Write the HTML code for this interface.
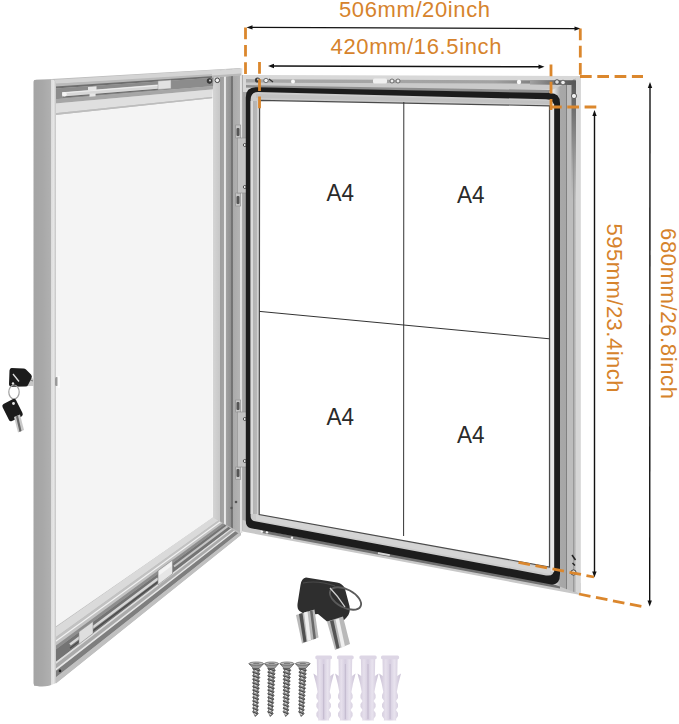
<!DOCTYPE html>
<html><head><meta charset="utf-8"><style>
html,body{margin:0;padding:0;background:#fff;width:679px;height:724px;overflow:hidden}
svg{display:block}
text{font-family:"Liberation Sans",sans-serif}
</style></head>
<body><svg width="679" height="724" viewBox="0 0 679 724">
<defs>
<linearGradient id="barL" gradientUnits="userSpaceOnUse" x1="33.5" x2="56" y1="0" y2="0">
<stop offset="0" stop-color="#a4a4a4"/><stop offset="0.4" stop-color="#a8a8a8"/><stop offset="0.76" stop-color="#b0b0b0"/><stop offset="0.78" stop-color="#dcdcdc"/><stop offset="0.9" stop-color="#e6e6e6"/><stop offset="1" stop-color="#c4c4c4"/>
</linearGradient>
<linearGradient id="hinge" gradientUnits="userSpaceOnUse" x1="212" x2="260" y1="0" y2="0">
<stop offset="0" stop-color="#f6f6f6"/>
<stop offset="0.03" stop-color="#fafafa"/>
<stop offset="0.03" stop-color="#d4d4d4"/>
<stop offset="0.175" stop-color="#c6c6c6"/>
<stop offset="0.176" stop-color="#9e9e9e"/>
<stop offset="0.25" stop-color="#a4a4a4"/>
<stop offset="0.251" stop-color="#ececec"/>
<stop offset="0.29" stop-color="#e2e2e2"/>
<stop offset="0.291" stop-color="#a2a2a2"/>
<stop offset="0.39" stop-color="#929292"/>
<stop offset="0.391" stop-color="#727272"/>
<stop offset="0.44" stop-color="#767676"/>
<stop offset="0.441" stop-color="#aaaaaa"/>
<stop offset="0.59" stop-color="#b4b4b4"/>
<stop offset="0.591" stop-color="#e4e4e4"/>
<stop offset="0.63" stop-color="#dcdcdc"/>
<stop offset="0.631" stop-color="#a4a4a4"/>
<stop offset="0.7" stop-color="#a6a6a6"/>
<stop offset="0.8" stop-color="#1e1e1e"/>
<stop offset="0.8" stop-color="#9a9a9a"/>
<stop offset="0.83" stop-color="#c4c4c4"/>
<stop offset="0.97" stop-color="#d2d2d2"/>
<stop offset="1" stop-color="#d2d2d2"/>
</linearGradient>
<linearGradient id="rframe" gradientUnits="userSpaceOnUse" x1="548" x2="582" y1="0" y2="0">
<stop offset="0" stop-color="#606060"/>
<stop offset="0.07" stop-color="#e8e8e8"/>
<stop offset="0.17" stop-color="#e6e6e6"/>
<stop offset="0.355" stop-color="#a8a8a8"/>
<stop offset="0.53" stop-color="#a6a6a6"/>
<stop offset="0.54" stop-color="#777777"/>
<stop offset="0.57" stop-color="#bdbdbd"/>
<stop offset="0.74" stop-color="#bdbdbd"/>
<stop offset="0.75" stop-color="#999999"/>
<stop offset="0.8" stop-color="#c2c2c2"/>
<stop offset="0.94" stop-color="#c4c4c4"/>
<stop offset="0.97" stop-color="#d0d0d0"/>
<stop offset="1" stop-color="#d0d0d0"/>
</linearGradient>
<linearGradient id="lstrip" gradientUnits="userSpaceOnUse" x1="250.6" x2="259.4" y1="0" y2="0">
<stop offset="0" stop-color="#dadada"/><stop offset="0.22" stop-color="#dadada"/><stop offset="0.25" stop-color="#b2b2b2"/><stop offset="0.7" stop-color="#b8b8b8"/><stop offset="0.72" stop-color="#d2d2d2"/><stop offset="1" stop-color="#d2d2d2"/>
</linearGradient>
<linearGradient id="topch" gradientUnits="userSpaceOnUse" x1="246" x2="576" y1="0" y2="0"><stop offset="0" stop-color="#a8a8a8"/><stop offset="0.75" stop-color="#a2a2a2"/><stop offset="0.95" stop-color="#6a6a6a"/><stop offset="1" stop-color="#555"/></linearGradient>
<linearGradient id="rch" gradientUnits="userSpaceOnUse" x1="0" x2="0" y1="80" y2="200"><stop offset="0" stop-color="#555"/><stop offset="0.5" stop-color="#8a8a8a"/><stop offset="1" stop-color="#9c9c9c" stop-opacity="0"/></linearGradient>
<linearGradient id="topch2" gradientUnits="userSpaceOnUse" x1="530" x2="576" y1="0" y2="0"><stop offset="0" stop-color="#a2a2a2"/><stop offset="0.6" stop-color="#6a6a6a"/><stop offset="1" stop-color="#555"/></linearGradient>
<clipPath id="dbot"><polygon points="56,627 213,517 241,535 56,683.5"/></clipPath>
</defs>

<!-- ============ DOOR ============ -->
<polygon points="34,80 241,68 241,535 56,683 34,686" fill="#bdbdbd"/>
<!-- glass -->
<polygon points="55,115 214,98 214,517 55,627" fill="#f4f4f4"/>
<!-- top bar bands -->
<polygon points="55,79.7 241,68.3 241,74.0 55,83.7" fill="#d4d4d4"/>
<polygon points="55,83.7 214,74.0 214,76.1 55,86.5" fill="#bababa"/>
<polygon points="55,86.5 214,76.1 214,77.7 55,88.5" fill="#6e6e6e"/>
<polygon points="55,88.5 214,77.7 214,85.9 55,99.2" fill="#8c8c8c"/>
<polygon points="55,99.2 214,85.9 214,89.3 55,103.6" fill="#a6a6a6"/>
<polygon points="55,103.6 214,89.3 214,96.7 55,113.3" fill="#dfdfdf"/>
<polygon points="55,113.3 214,96.7 214,98.0 55,115.0" fill="#bdbdbd"/>
<!-- rod -->
<line x1="63" y1="97" x2="160" y2="89" stroke="#6a6a6a" stroke-width="1.2"/>
<polygon points="62,92.2 161,84.3 161,88.5 62,96.4" fill="#d8d8d8"/>
<line x1="62" y1="93" x2="161" y2="85.2" stroke="#efefef" stroke-width="1"/>
<circle cx="64.5" cy="94.3" r="2.2" fill="#f4f4f4"/>
<polygon points="158,81 171,80 171,88.5 158,89.5" fill="#e2e2e2" stroke="#9a9a9a" stroke-width="0.5"/>
<polygon points="88,87 96.5,86.3 96.5,90 88,90.5" fill="#e6e6e6"/>
<polygon points="89.5,93.8 95.6,93.3 95.6,96.3 89.5,96.8" fill="#e6e6e6"/>
<!-- bottom bar bands -->
<g clip-path="url(#dbot)">
<polygon points="50,631.2 245,494.6 245,501.3 50,641.4" fill="#dadada"/>
<polygon points="50,641.4 245,501.3 245,506.9 50,649.9" fill="#c2c2c2"/>
<polygon points="50,649.9 245,506.9 245,509.5 50,653.8" fill="#8e8e8e"/>
<polygon points="50,653.8 245,509.5 245,517.7 50,666.3" fill="#747474"/>
<polygon points="50,666.3 245,517.7 245,519.1 50,668.6" fill="#dedede"/>
<polygon points="50,668.6 245,519.1 245,522.1 50,673.1" fill="#aaaaaa"/>
<polygon points="50,673.1 245,522.1 245,523.6 50,675.3" fill="#e6e6e6"/>
<polygon points="50,675.3 245,523.6 245,528.1 50,682.1" fill="#7e7e7e"/>
<polygon points="50,682.1 245,528.1 245,532.5 50,688.9" fill="#c0c0c0"/>
<line x1="50" y1="645.4" x2="245" y2="503.9" stroke="#f2f2f2" stroke-width="1.2"/>
<line x1="70" y1="648.3" x2="158" y2="581.7" stroke="#4a4a4a" stroke-width="1.2"/>
<line x1="70" y1="644.5" x2="158" y2="578.5" stroke="#d6d6d6" stroke-width="2.6"/>
<line x1="174" y1="566.5" x2="228" y2="525.9" stroke="#c4c4c4" stroke-width="2"/>
<polygon points="158,570.7 172.5,560.0 172.5,573.8 158,584.9" fill="#e6e6e6" stroke="#8a8a8a" stroke-width="0.6"/>
<polygon points="159,571.3 171.5,562.1 171.5,566.1 159,575.4" fill="#f4f4f4"/>
<polygon points="79,631.8 93,621.5 93,633.5 79,644.2" fill="#dedede" stroke="#8a8a8a" stroke-width="0.5"/>
<circle cx="60" cy="670.9" r="1.3" fill="#222"/>
</g>
<!-- hinge column (door + cabinet left) -->
<polygon points="212.3,98 214,71 241,68.3 242.1,68.3 242.1,533 241,533 212.3,517" fill="url(#hinge)"/>
<polygon points="242.1,75 259.8,75 259.8,514.6 242.4,531 242.1,531" fill="url(#hinge)"/>
<polygon points="212,70.9 241,68.3 241,75 212,77.5" fill="#d6d6d6"/>
<polygon points="212,75.5 241,73.4 241,75.5 212,77.6" fill="#b9b9b9"/>
<!-- hinge plates -->
<g fill="#c4c4c4" stroke="#8e8e8e" stroke-width="0.6">
<rect x="235.7" y="125" width="5" height="13"/>
<rect x="235.7" y="193" width="5" height="13"/>
<rect x="237.3" y="138" width="9.2" height="55"/>
<rect x="235.7" y="400" width="5" height="12"/>
<rect x="235.7" y="467" width="5" height="12.5"/>
<rect x="237.3" y="412" width="9.2" height="55"/>
</g>
<g fill="#f2f2f2" stroke="#333" stroke-width="0.8">
<circle cx="244.8" cy="145" r="1.5"/><circle cx="244.8" cy="187" r="1.5"/>
<circle cx="244.8" cy="419" r="1.5"/><circle cx="244.8" cy="461" r="1.5"/>
</g>
<g fill="#555">
<rect x="236.5" y="128" width="3" height="8" rx="1"/><rect x="236.5" y="196" width="3" height="8" rx="1"/>
<rect x="236.5" y="402" width="3" height="8" rx="1"/><rect x="236.5" y="469" width="3" height="8" rx="1"/>
<circle cx="231.5" cy="508" r="1.2"/><circle cx="236" cy="502" r="1.3"/>
</g>
<!-- left bar -->
<path d="M33.5,82 Q33.5,79.7 36.5,79.7 L52,79.7 Q56,79.7 56,84 L56,683 Q46,688 37,686 Q33.5,686 33.5,683 Z" fill="url(#barL)"/>
<!-- lock -->
<rect x="55" y="377" width="3.5" height="9" rx="1.5" fill="#9a9a9a"/>
<rect x="57.5" y="376" width="2.5" height="12" rx="1" fill="#fbfbfb"/>

<!-- ============ CABINET ============ -->
<!-- top frame -->
<polygon points="243,75 580.5,76 580.5,100 243,92" fill="#d8d8d8"/>
<polygon points="246,79.1 576,80.4 576,85 246,82.7" fill="url(#topch)"/>
<polygon points="246,82.7 576,83.8 576,89.5 246,88" fill="#cacaca"/>
<polygon points="246,85 576,90.5 576,94 246,87.5" fill="#8e8e8e"/>
<!-- bottom frame -->
<polygon points="242.4,520 580.5,583 580.5,595 242.4,531.5" fill="#c8c8c8"/>
<polygon points="262,530 560,584.5 560,588.5 262,533" fill="#707070"/>
<circle cx="262" cy="531.5" r="1.2" fill="#f4f4f4"/><circle cx="267" cy="532.3" r="1.2" fill="#f4f4f4"/><circle cx="292" cy="537.8" r="1.2" fill="#f4f4f4"/><rect x="378" y="552" width="12" height="3" fill="#d8d8d8" transform="rotate(10.5 384 553.5)"/>
<!-- right frame -->
<polygon points="548,92 580.5,76 580.5,594.5 561,587 548,582" fill="url(#rframe)"/>
<rect x="571.5" y="80.5" width="4.5" height="120" fill="url(#rch)"/>
<polygon points="530,80.2 576,80.5 571.5,85 530,84.6" fill="url(#topch2)"/>
<polygon points="576,76.3 580.5,76 580.5,594.5 576,592" fill="#d6d6d6"/>
<!-- gasket -->
<path d="M245.8,97.5 Q245.8,87.2 256,87.3 L550,93 Q560,93.2 560,103 L560,574 Q560,586 550,584.2 L251,528.3 Q245.8,527.3 245.8,521 Z" fill="#1c1c1c"/>
<!-- inner light strip -->
<path d="M250.6,100 Q250.6,92 258,92 L546,99.3 Q554.1,99.5 554.1,107 L554.1,569 Q554.1,576.8 546,575.4 L255,521.3 Q250.6,520.5 250.6,516 Z" fill="#cbcbcb"/>
<polygon points="256,94 550,101 550,104 256,98" fill="#c2c2c2"/>
<rect x="250.6" y="101" width="8.8" height="413" fill="url(#lstrip)"/>
<polygon points="550.5,104 554.1,104 554.1,572 550.5,571" fill="#e6e6e6"/>
<polygon points="256,514 550,569 550,574 256,520" fill="#d4d4d4"/>
<!-- paper -->
<polygon points="259.6,100.3 549.5,105.8 549.5,567 259.2,514.6" fill="#ffffff" stroke="#4a4a4a" stroke-width="1.2"/>
<!-- dividers -->
<line x1="403.8" y1="102" x2="403.6" y2="536" stroke="#333" stroke-width="1"/>
<line x1="259.5" y1="311.4" x2="549.5" y2="338.8" stroke="#333" stroke-width="1"/>
<!-- screws / latches top -->
<circle cx="519" cy="82" r="2.2" fill="#fafafa"/>
<rect x="373" y="78.5" width="14" height="5" rx="1.5" fill="#f0f0f0"/>
<circle cx="392" cy="81" r="2" fill="#eee" stroke="#555" stroke-width="0.8"/>
<circle cx="398" cy="81" r="2" fill="#eee" stroke="#555" stroke-width="0.8"/>
<circle cx="257.5" cy="80" r="2.6" fill="#3a3a3a"/><circle cx="258" cy="79.5" r="1" fill="#cfcfcf"/>
<circle cx="266" cy="80.5" r="2.2" fill="#f2f2f2" stroke="#444" stroke-width="0.7"/>
<line x1="269" y1="79" x2="273" y2="82" stroke="#333" stroke-width="1.2"/>
<circle cx="293" cy="81.5" r="2" fill="#fafafa"/>
<circle cx="557" cy="82" r="2.3" fill="#ddd" stroke="#333" stroke-width="0.8"/>
<circle cx="563" cy="82.5" r="2.3" fill="#eee" stroke="#555" stroke-width="0.8"/>
<circle cx="574" cy="96" r="2.6" fill="#eee" stroke="#444" stroke-width="0.8"/>
<circle cx="573.5" cy="572.5" r="2.6" fill="#e8e8e8" stroke="#333" stroke-width="0.9"/>
<line x1="572" y1="555" x2="575.5" y2="560" stroke="#222" stroke-width="1.5"/>
<line x1="572.5" y1="563" x2="575" y2="565.5" stroke="#222" stroke-width="1.5"/>
<circle cx="209.5" cy="81" r="2.4" fill="#3a3a3a" stroke="#222" stroke-width="0.6"/><circle cx="210" cy="80.5" r="0.9" fill="#ddd"/>
<circle cx="217.3" cy="80.3" r="2.3" fill="#f0f0f0" stroke="#333" stroke-width="0.9"/>
<!-- A4 labels -->
<g fill="#2a2a2a" font-size="23.5">
<text x="326.6" y="201" textLength="27.5" lengthAdjust="spacingAndGlyphs">A4</text>
<text x="457" y="203.2" textLength="27.5" lengthAdjust="spacingAndGlyphs">A4</text>
<text x="326.6" y="424.7" textLength="27.5" lengthAdjust="spacingAndGlyphs">A4</text>
<text x="457" y="442.5" textLength="27.5" lengthAdjust="spacingAndGlyphs">A4</text>
</g>

<!-- ============ DIMENSIONS ============ -->
<g stroke="#111" stroke-width="1.4" fill="none">
<line x1="250" y1="27.4" x2="576" y2="28.6"/>
<line x1="272" y1="66" x2="540" y2="66.8"/>
<line x1="594.5" y1="114" x2="594.5" y2="573"/>
<line x1="650" y1="86" x2="649.7" y2="602"/>
</g>
<g fill="#111">
<polygon points="246.5,27.4 252.5,25.2 252.5,29.6"/>
<polygon points="580.5,28.6 574.5,26.4 574.5,30.8"/>
<polygon points="268,66 274,63.8 274,68.2"/>
<polygon points="544.5,66.8 538.5,64.6 538.5,69"/>
<polygon points="594.5,110 592.3,116 596.7,116"/>
<polygon points="594.4,577.5 592.2,571.5 596.6,571.5"/>
<polygon points="650,82 647.8,88 652.2,88"/>
<polygon points="649.7,606.5 647.5,600.5 651.9,600.5"/>
</g>
<g stroke="#db872d" stroke-width="2.8" fill="none" stroke-dasharray="11.7,5.6">
<line x1="245.5" y1="27.6" x2="245.5" y2="74"/>
<line x1="580.3" y1="28.5" x2="580.3" y2="76"/>
<line x1="580" y1="76.5" x2="643" y2="76.5"/>
<line x1="259.5" y1="62" x2="259.5" y2="110"/>
<line x1="551" y1="64.5" x2="551" y2="110"/>
<line x1="550" y1="107" x2="597" y2="107"/>
<line x1="518.5" y1="562.4" x2="594" y2="577"/>
<line x1="579" y1="594" x2="644" y2="607"/>
</g>
<g fill="#d6832c" font-size="22">
<text x="339" y="17.4" textLength="151" lengthAdjust="spacing">506mm/20inch</text>
<text x="330.5" y="53.7" textLength="171" lengthAdjust="spacing">420mm/16.5inch</text>
<text transform="translate(607.4,223.5) rotate(90)" textLength="169" lengthAdjust="spacing">595mm/23.4inch</text>
<text transform="translate(660.5,228) rotate(90)" textLength="171" lengthAdjust="spacing">680mm/26.8inch</text>
</g>

<!-- ============ KEYS / SCREWS ============ -->
<!-- left keys -->
<polygon points="24,375 34,379 34,386 24,386" fill="#c8c8c8"/>
<line x1="26" y1="378" x2="33" y2="381" stroke="#777" stroke-width="1"/>
<path d="M11.5,368 L23.5,368.5 Q25,368.6 26,369.5 L31,374.5 Q32.5,376 31.5,378 L28,385 Q27.5,386.6 25.5,386.6 L12,386.8 Q9,386.8 9,384 L9.5,370.5 Q9.7,368 11.5,368 Z" fill="#1b1b1b"/>
<line x1="13" y1="374" x2="19" y2="381.5" stroke="#e0e0e0" stroke-width="1.3"/>
<circle cx="13" cy="383.5" r="1.2" fill="#e8e8e8"/>
<ellipse cx="14" cy="392" rx="5.2" ry="7" fill="none" stroke="#a0a0a0" stroke-width="1.2"/>
<path d="M3.5,404 L13,399 Q15,398 16,400 L22.5,413 Q23.5,415 21.5,416.5 L12,421 Q10,422 9,420 L2.5,407 Q1.8,405 3.5,404 Z" fill="#1b1b1b"/>
<polygon points="14,417 20,414.5 24,430 18,432.5" fill="#c9c9c9"/>
<polygon points="16,416.5 18,415.6 21.5,431 19.5,432" fill="#666"/>
<circle cx="13.5" cy="403.5" r="1.4" fill="#e8e8e8"/>
<!-- bottom key -->
<path d="M306,577.5 L337,582.5 Q343,583.5 345,589 L349.5,606 Q351,613 346.5,617.5 L340,624 L327,621.5 L318,614 L306,615 L299.5,611 Q297,609 297.5,604 L300.5,585 Q301.5,578 306,577.5 Z" fill="#2e2e2e"/>
<path d="M303,583 Q318,580 335,586" fill="none" stroke="#4a4a4a" stroke-width="1.2"/>
<polygon points="296,615 314.5,609.5 318.5,637.5 302,643.5" fill="#b9b9b9"/>
<polygon points="299,614 302.5,613 306.5,641.5 303.5,642.5" fill="#505050"/>
<polygon points="304,612.5 307.5,611.5 311,640 307.5,641" fill="#eeeeee"/>
<polygon points="310,611 312.5,610.5 316,638.5 313.5,639.5" fill="#6a6a6a"/>
<polygon points="327,621.5 343,616.5 350,644 335,650" fill="#b9b9b9"/>
<polygon points="330,621 333.5,620 339.5,648 336.5,649" fill="#555555"/>
<polygon points="335.5,619.5 339,618.5 345,646.5 341.5,647.5" fill="#efefef"/>
<ellipse cx="345.5" cy="598.5" rx="17" ry="9" transform="rotate(28 345.5 598.5)" fill="none" stroke="#5a5a5a" stroke-width="1.8"/>
<path d="M330,588 Q338,596 345,607" fill="none" stroke="#d0d0d0" stroke-width="1.3"/>
<!-- screws -->
<polygon points="253.7,668.0 252.5,668.5 254.0,670.3 252.5,672.1 254.0,673.9 252.5,675.7 254.0,677.5 252.5,679.3 254.0,681.1 252.5,682.9 254.0,684.7 252.6,686.5 254.0,688.3 252.6,690.1 254.0,691.9 252.6,693.7 254.0,695.5 252.6,697.3 254.0,699.1 252.6,700.9 253.9,702.7 252.6,704.5 253.9,706.3 252.6,708.1 253.9,709.9 252.6,711.7 253.9,713.5 255.3,716.5 258.2,713.5 256.9,711.7 258.3,709.9 257.0,708.1 258.5,706.3 257.1,704.5 258.6,702.7 257.3,700.9 258.8,699.1 257.4,697.3 259.0,695.5 257.6,693.7 259.1,691.9 257.7,690.1 259.3,688.3 257.9,686.5 259.4,684.7 258.0,682.9 259.6,681.1 258.1,679.3 259.8,677.5 258.3,675.7 259.9,673.9 258.4,672.1 260.1,670.3 258.6,668.5 258.9,668.0" fill="#8c8c8c" stroke="#3e3e3e" stroke-width="0.7"/>
<line x1="253.0" y1="668.8" x2="259.6" y2="670.8" stroke="#3a3a3a" stroke-width="0.9"/>
<line x1="254.7" y1="670.4" x2="256.9" y2="671.4" stroke="#f0f0f0" stroke-width="0.9"/>
<line x1="253.0" y1="672.4" x2="259.4" y2="674.4" stroke="#3a3a3a" stroke-width="0.9"/>
<line x1="254.6" y1="674.0" x2="256.8" y2="675.0" stroke="#f0f0f0" stroke-width="0.9"/>
<line x1="253.0" y1="676.0" x2="259.3" y2="678.0" stroke="#3a3a3a" stroke-width="0.9"/>
<line x1="254.5" y1="677.6" x2="256.7" y2="678.6" stroke="#f0f0f0" stroke-width="0.9"/>
<line x1="253.0" y1="679.6" x2="259.1" y2="681.6" stroke="#3a3a3a" stroke-width="0.9"/>
<line x1="254.5" y1="681.2" x2="256.7" y2="682.2" stroke="#f0f0f0" stroke-width="0.9"/>
<line x1="253.0" y1="683.2" x2="258.9" y2="685.2" stroke="#3a3a3a" stroke-width="0.9"/>
<line x1="254.4" y1="684.8" x2="256.6" y2="685.8" stroke="#f0f0f0" stroke-width="0.9"/>
<line x1="253.1" y1="686.8" x2="258.8" y2="688.8" stroke="#3a3a3a" stroke-width="0.9"/>
<line x1="254.3" y1="688.4" x2="256.5" y2="689.4" stroke="#f0f0f0" stroke-width="0.9"/>
<line x1="253.1" y1="690.4" x2="258.6" y2="692.4" stroke="#3a3a3a" stroke-width="0.9"/>
<line x1="254.2" y1="692.0" x2="256.4" y2="693.0" stroke="#f0f0f0" stroke-width="0.9"/>
<line x1="253.1" y1="694.0" x2="258.5" y2="696.0" stroke="#3a3a3a" stroke-width="0.9"/>
<line x1="254.2" y1="695.6" x2="256.4" y2="696.6" stroke="#f0f0f0" stroke-width="0.9"/>
<line x1="253.1" y1="697.6" x2="258.3" y2="699.6" stroke="#3a3a3a" stroke-width="0.9"/>
<line x1="254.1" y1="699.2" x2="256.3" y2="700.2" stroke="#f0f0f0" stroke-width="0.9"/>
<line x1="253.1" y1="701.2" x2="258.1" y2="703.2" stroke="#3a3a3a" stroke-width="0.9"/>
<line x1="254.0" y1="702.8" x2="256.2" y2="703.8" stroke="#f0f0f0" stroke-width="0.9"/>
<line x1="253.1" y1="704.8" x2="258.0" y2="706.8" stroke="#3a3a3a" stroke-width="0.9"/>
<line x1="253.9" y1="706.4" x2="256.1" y2="707.4" stroke="#f0f0f0" stroke-width="0.9"/>
<line x1="253.1" y1="708.4" x2="257.8" y2="710.4" stroke="#3a3a3a" stroke-width="0.9"/>
<line x1="253.9" y1="710.0" x2="256.1" y2="711.0" stroke="#f0f0f0" stroke-width="0.9"/>
<line x1="253.1" y1="712.0" x2="257.7" y2="714.0" stroke="#3a3a3a" stroke-width="0.9"/>
<line x1="253.8" y1="713.6" x2="256.0" y2="714.6" stroke="#f0f0f0" stroke-width="0.9"/>
<polygon points="249.0,663.8 263.6,663.8 259.1,668.5 253.5,668.5" fill="#9a9a9a" stroke="#4a4a4a" stroke-width="0.6"/>
<ellipse cx="256.3" cy="663.6" rx="7.3" ry="1.6" fill="#bdbdbd" stroke="#4a4a4a" stroke-width="0.6"/>
<line x1="253.3" y1="663.6" x2="259.3" y2="663.6" stroke="#555" stroke-width="0.7"/>
<polygon points="268.9,668.0 267.7,668.5 269.2,670.3 267.7,672.1 269.2,673.9 267.7,675.7 269.2,677.5 267.7,679.3 269.2,681.1 267.7,682.9 269.1,684.7 267.7,686.5 269.1,688.3 267.7,690.1 269.1,691.9 267.7,693.7 269.1,695.5 267.7,697.3 269.0,699.1 267.7,700.9 269.0,702.7 267.7,704.5 269.0,706.3 267.7,708.1 269.0,709.9 267.6,711.7 268.9,713.5 270.3,716.5 273.2,713.5 271.9,711.7 273.4,709.9 272.0,708.1 273.5,706.3 272.2,704.5 273.7,702.7 272.4,700.9 273.9,699.1 272.5,697.3 274.1,695.5 272.7,693.7 274.2,691.9 272.9,690.1 274.4,688.3 273.0,686.5 274.6,684.7 273.2,682.9 274.8,681.1 273.3,679.3 275.0,677.5 273.5,675.7 275.1,673.9 273.7,672.1 275.3,670.3 273.8,668.5 274.2,668.0" fill="#8c8c8c" stroke="#3e3e3e" stroke-width="0.7"/>
<line x1="268.2" y1="668.8" x2="274.8" y2="670.8" stroke="#3a3a3a" stroke-width="0.9"/>
<line x1="269.9" y1="670.4" x2="272.1" y2="671.4" stroke="#f0f0f0" stroke-width="0.9"/>
<line x1="268.2" y1="672.4" x2="274.6" y2="674.4" stroke="#3a3a3a" stroke-width="0.9"/>
<line x1="269.8" y1="674.0" x2="272.0" y2="675.0" stroke="#f0f0f0" stroke-width="0.9"/>
<line x1="268.2" y1="676.0" x2="274.5" y2="678.0" stroke="#3a3a3a" stroke-width="0.9"/>
<line x1="269.7" y1="677.6" x2="271.9" y2="678.6" stroke="#f0f0f0" stroke-width="0.9"/>
<line x1="268.2" y1="679.6" x2="274.3" y2="681.6" stroke="#3a3a3a" stroke-width="0.9"/>
<line x1="269.7" y1="681.2" x2="271.9" y2="682.2" stroke="#f0f0f0" stroke-width="0.9"/>
<line x1="268.2" y1="683.2" x2="274.1" y2="685.2" stroke="#3a3a3a" stroke-width="0.9"/>
<line x1="269.6" y1="684.8" x2="271.8" y2="685.8" stroke="#f0f0f0" stroke-width="0.9"/>
<line x1="268.2" y1="686.8" x2="273.9" y2="688.8" stroke="#3a3a3a" stroke-width="0.9"/>
<line x1="269.5" y1="688.4" x2="271.7" y2="689.4" stroke="#f0f0f0" stroke-width="0.9"/>
<line x1="268.2" y1="690.4" x2="273.7" y2="692.4" stroke="#3a3a3a" stroke-width="0.9"/>
<line x1="269.4" y1="692.0" x2="271.6" y2="693.0" stroke="#f0f0f0" stroke-width="0.9"/>
<line x1="268.2" y1="694.0" x2="273.6" y2="696.0" stroke="#3a3a3a" stroke-width="0.9"/>
<line x1="269.3" y1="695.6" x2="271.5" y2="696.6" stroke="#f0f0f0" stroke-width="0.9"/>
<line x1="268.2" y1="697.6" x2="273.4" y2="699.6" stroke="#3a3a3a" stroke-width="0.9"/>
<line x1="269.2" y1="699.2" x2="271.4" y2="700.2" stroke="#f0f0f0" stroke-width="0.9"/>
<line x1="268.2" y1="701.2" x2="273.2" y2="703.2" stroke="#3a3a3a" stroke-width="0.9"/>
<line x1="269.1" y1="702.8" x2="271.3" y2="703.8" stroke="#f0f0f0" stroke-width="0.9"/>
<line x1="268.2" y1="704.8" x2="273.0" y2="706.8" stroke="#3a3a3a" stroke-width="0.9"/>
<line x1="269.0" y1="706.4" x2="271.2" y2="707.4" stroke="#f0f0f0" stroke-width="0.9"/>
<line x1="268.2" y1="708.4" x2="272.9" y2="710.4" stroke="#3a3a3a" stroke-width="0.9"/>
<line x1="268.9" y1="710.0" x2="271.1" y2="711.0" stroke="#f0f0f0" stroke-width="0.9"/>
<line x1="268.1" y1="712.0" x2="272.7" y2="714.0" stroke="#3a3a3a" stroke-width="0.9"/>
<line x1="268.8" y1="713.6" x2="271.0" y2="714.6" stroke="#f0f0f0" stroke-width="0.9"/>
<polygon points="264.6,663.8 278.5,663.8 274.4,668.5 268.8,668.5" fill="#9a9a9a" stroke="#4a4a4a" stroke-width="0.6"/>
<ellipse cx="271.6" cy="663.6" rx="6.9" ry="1.6" fill="#bdbdbd" stroke="#4a4a4a" stroke-width="0.6"/>
<line x1="268.6" y1="663.6" x2="274.6" y2="663.6" stroke="#555" stroke-width="0.7"/>
<polygon points="284.4,668.0 283.2,668.5 284.7,670.3 283.2,672.1 284.7,673.9 283.2,675.7 284.6,677.5 283.2,679.3 284.6,681.1 283.2,682.9 284.6,684.7 283.1,686.5 284.6,688.3 283.1,690.1 284.5,691.9 283.1,693.7 284.5,695.5 283.1,697.3 284.5,699.1 283.1,700.9 284.4,702.7 283.1,704.5 284.4,706.3 283.1,708.1 284.4,709.9 283.1,711.7 284.4,713.5 285.7,716.5 288.6,713.5 287.3,711.7 288.8,709.9 287.4,708.1 288.9,706.3 287.6,704.5 289.1,702.7 287.8,700.9 289.3,699.1 287.9,697.3 289.5,695.5 288.1,693.7 289.7,691.9 288.3,690.1 289.9,688.3 288.4,686.5 290.0,684.7 288.6,682.9 290.2,681.1 288.8,679.3 290.4,677.5 288.9,675.7 290.6,673.9 289.1,672.1 290.8,670.3 289.3,668.5 289.6,668.0" fill="#8c8c8c" stroke="#3e3e3e" stroke-width="0.7"/>
<line x1="283.7" y1="668.8" x2="290.3" y2="670.8" stroke="#3a3a3a" stroke-width="0.9"/>
<line x1="285.4" y1="670.4" x2="287.6" y2="671.4" stroke="#f0f0f0" stroke-width="0.9"/>
<line x1="283.7" y1="672.4" x2="290.1" y2="674.4" stroke="#3a3a3a" stroke-width="0.9"/>
<line x1="285.3" y1="674.0" x2="287.5" y2="675.0" stroke="#f0f0f0" stroke-width="0.9"/>
<line x1="283.7" y1="676.0" x2="289.9" y2="678.0" stroke="#3a3a3a" stroke-width="0.9"/>
<line x1="285.2" y1="677.6" x2="287.4" y2="678.6" stroke="#f0f0f0" stroke-width="0.9"/>
<line x1="283.7" y1="679.6" x2="289.7" y2="681.6" stroke="#3a3a3a" stroke-width="0.9"/>
<line x1="285.1" y1="681.2" x2="287.3" y2="682.2" stroke="#f0f0f0" stroke-width="0.9"/>
<line x1="283.7" y1="683.2" x2="289.5" y2="685.2" stroke="#3a3a3a" stroke-width="0.9"/>
<line x1="285.0" y1="684.8" x2="287.2" y2="685.8" stroke="#f0f0f0" stroke-width="0.9"/>
<line x1="283.6" y1="686.8" x2="289.4" y2="688.8" stroke="#3a3a3a" stroke-width="0.9"/>
<line x1="284.9" y1="688.4" x2="287.1" y2="689.4" stroke="#f0f0f0" stroke-width="0.9"/>
<line x1="283.6" y1="690.4" x2="289.2" y2="692.4" stroke="#3a3a3a" stroke-width="0.9"/>
<line x1="284.8" y1="692.0" x2="287.0" y2="693.0" stroke="#f0f0f0" stroke-width="0.9"/>
<line x1="283.6" y1="694.0" x2="289.0" y2="696.0" stroke="#3a3a3a" stroke-width="0.9"/>
<line x1="284.7" y1="695.6" x2="286.9" y2="696.6" stroke="#f0f0f0" stroke-width="0.9"/>
<line x1="283.6" y1="697.6" x2="288.8" y2="699.6" stroke="#3a3a3a" stroke-width="0.9"/>
<line x1="284.6" y1="699.2" x2="286.8" y2="700.2" stroke="#f0f0f0" stroke-width="0.9"/>
<line x1="283.6" y1="701.2" x2="288.6" y2="703.2" stroke="#3a3a3a" stroke-width="0.9"/>
<line x1="284.5" y1="702.8" x2="286.7" y2="703.8" stroke="#f0f0f0" stroke-width="0.9"/>
<line x1="283.6" y1="704.8" x2="288.4" y2="706.8" stroke="#3a3a3a" stroke-width="0.9"/>
<line x1="284.4" y1="706.4" x2="286.6" y2="707.4" stroke="#f0f0f0" stroke-width="0.9"/>
<line x1="283.6" y1="708.4" x2="288.3" y2="710.4" stroke="#3a3a3a" stroke-width="0.9"/>
<line x1="284.3" y1="710.0" x2="286.5" y2="711.0" stroke="#f0f0f0" stroke-width="0.9"/>
<line x1="283.6" y1="712.0" x2="288.1" y2="714.0" stroke="#3a3a3a" stroke-width="0.9"/>
<line x1="284.2" y1="713.6" x2="286.4" y2="714.6" stroke="#f0f0f0" stroke-width="0.9"/>
<polygon points="280.0,663.8 294.0,663.8 289.8,668.5 284.2,668.5" fill="#9a9a9a" stroke="#4a4a4a" stroke-width="0.6"/>
<ellipse cx="287.0" cy="663.6" rx="7.0" ry="1.6" fill="#bdbdbd" stroke="#4a4a4a" stroke-width="0.6"/>
<line x1="284.0" y1="663.6" x2="290.0" y2="663.6" stroke="#555" stroke-width="0.7"/>
<polygon points="300.1,668.0 298.9,668.5 300.4,670.3 298.9,672.1 300.4,673.9 298.9,675.7 300.3,677.5 298.9,679.3 300.3,681.1 298.8,682.9 300.3,684.7 298.8,686.5 300.2,688.3 298.8,690.1 300.2,691.9 298.7,693.7 300.1,695.5 298.7,697.3 300.1,699.1 298.7,700.9 300.0,702.7 298.6,704.5 300.0,706.3 298.6,708.1 299.9,709.9 298.6,711.7 299.9,713.5 301.2,716.5 304.1,713.5 302.8,711.7 304.3,709.9 303.0,708.1 304.5,706.3 303.2,704.5 304.7,702.7 303.4,700.9 304.9,699.1 303.5,697.3 305.1,695.5 303.7,693.7 305.3,691.9 303.9,690.1 305.5,688.3 304.1,686.5 305.7,684.7 304.3,682.9 305.9,681.1 304.5,679.3 306.1,677.5 304.7,675.7 306.3,673.9 304.8,672.1 306.5,670.3 305.0,668.5 305.4,668.0" fill="#8c8c8c" stroke="#3e3e3e" stroke-width="0.7"/>
<line x1="299.4" y1="668.8" x2="306.0" y2="670.8" stroke="#3a3a3a" stroke-width="0.9"/>
<line x1="301.1" y1="670.4" x2="303.3" y2="671.4" stroke="#f0f0f0" stroke-width="0.9"/>
<line x1="299.4" y1="672.4" x2="305.8" y2="674.4" stroke="#3a3a3a" stroke-width="0.9"/>
<line x1="301.0" y1="674.0" x2="303.2" y2="675.0" stroke="#f0f0f0" stroke-width="0.9"/>
<line x1="299.4" y1="676.0" x2="305.6" y2="678.0" stroke="#3a3a3a" stroke-width="0.9"/>
<line x1="300.9" y1="677.6" x2="303.1" y2="678.6" stroke="#f0f0f0" stroke-width="0.9"/>
<line x1="299.4" y1="679.6" x2="305.4" y2="681.6" stroke="#3a3a3a" stroke-width="0.9"/>
<line x1="300.8" y1="681.2" x2="303.0" y2="682.2" stroke="#f0f0f0" stroke-width="0.9"/>
<line x1="299.3" y1="683.2" x2="305.2" y2="685.2" stroke="#3a3a3a" stroke-width="0.9"/>
<line x1="300.7" y1="684.8" x2="302.9" y2="685.8" stroke="#f0f0f0" stroke-width="0.9"/>
<line x1="299.3" y1="686.8" x2="305.0" y2="688.8" stroke="#3a3a3a" stroke-width="0.9"/>
<line x1="300.6" y1="688.4" x2="302.8" y2="689.4" stroke="#f0f0f0" stroke-width="0.9"/>
<line x1="299.3" y1="690.4" x2="304.8" y2="692.4" stroke="#3a3a3a" stroke-width="0.9"/>
<line x1="300.4" y1="692.0" x2="302.6" y2="693.0" stroke="#f0f0f0" stroke-width="0.9"/>
<line x1="299.2" y1="694.0" x2="304.6" y2="696.0" stroke="#3a3a3a" stroke-width="0.9"/>
<line x1="300.3" y1="695.6" x2="302.5" y2="696.6" stroke="#f0f0f0" stroke-width="0.9"/>
<line x1="299.2" y1="697.6" x2="304.4" y2="699.6" stroke="#3a3a3a" stroke-width="0.9"/>
<line x1="300.2" y1="699.2" x2="302.4" y2="700.2" stroke="#f0f0f0" stroke-width="0.9"/>
<line x1="299.2" y1="701.2" x2="304.2" y2="703.2" stroke="#3a3a3a" stroke-width="0.9"/>
<line x1="300.1" y1="702.8" x2="302.3" y2="703.8" stroke="#f0f0f0" stroke-width="0.9"/>
<line x1="299.1" y1="704.8" x2="304.0" y2="706.8" stroke="#3a3a3a" stroke-width="0.9"/>
<line x1="300.0" y1="706.4" x2="302.2" y2="707.4" stroke="#f0f0f0" stroke-width="0.9"/>
<line x1="299.1" y1="708.4" x2="303.8" y2="710.4" stroke="#3a3a3a" stroke-width="0.9"/>
<line x1="299.9" y1="710.0" x2="302.1" y2="711.0" stroke="#f0f0f0" stroke-width="0.9"/>
<line x1="299.1" y1="712.0" x2="303.6" y2="714.0" stroke="#3a3a3a" stroke-width="0.9"/>
<line x1="299.7" y1="713.6" x2="301.9" y2="714.6" stroke="#f0f0f0" stroke-width="0.9"/>
<polygon points="295.5,663.8 310.0,663.8 305.6,668.5 299.9,668.5" fill="#9a9a9a" stroke="#4a4a4a" stroke-width="0.6"/>
<ellipse cx="302.8" cy="663.6" rx="7.2" ry="1.6" fill="#bdbdbd" stroke="#4a4a4a" stroke-width="0.6"/>
<line x1="299.8" y1="663.6" x2="305.8" y2="663.6" stroke="#555" stroke-width="0.7"/>
<!-- anchors -->
<linearGradient id="anc315" gradientUnits="userSpaceOnUse" x1="313.6" x2="333.7" y1="0" y2="0"><stop offset="0" stop-color="#c9c0d4"/><stop offset="0.3" stop-color="#e6e0ec"/><stop offset="0.5" stop-color="#d6cee0"/><stop offset="0.7" stop-color="#e8e3ee"/><stop offset="1" stop-color="#cbc2d6"/></linearGradient>
<path d="M316.8,659 L330.5,659 L330.2,676 L333.9,673.5 L331.2,684 L329.7,692 L330.9,695.0 L330.9,698.0 L328.9,701.0 L330.9,704.0 L330.9,707.0 L328.9,710.0 L330.9,713.0 L330.9,716.0 L328.9,719.0 L329.2,720.5 L318.1,720.5 L318.4,719.0 L316.4,716.0 L316.4,713.0 L318.4,710.0 L316.4,707.0 L316.4,704.0 L318.4,701.0 L316.4,698.0 L316.4,695.0 L317.6,692 L316.1,684 L313.4,673.5 L317.1,676 Z" fill="url(#anc315)"/>
<rect x="315.3" y="655.6" width="16.7" height="3.6" rx="1.5" fill="#ddd6e5"/>
<line x1="323.6" y1="664" x2="323.6" y2="719" stroke="#c6bdd1" stroke-width="1.2"/>
<linearGradient id="anc337" gradientUnits="userSpaceOnUse" x1="335.3" x2="355.4" y1="0" y2="0"><stop offset="0" stop-color="#c9c0d4"/><stop offset="0.3" stop-color="#e6e0ec"/><stop offset="0.5" stop-color="#d6cee0"/><stop offset="0.7" stop-color="#e8e3ee"/><stop offset="1" stop-color="#cbc2d6"/></linearGradient>
<path d="M338.5,659 L352.2,659 L351.9,676 L355.6,673.5 L352.9,684 L351.4,692 L352.6,695.0 L352.6,698.0 L350.6,701.0 L352.6,704.0 L352.6,707.0 L350.6,710.0 L352.6,713.0 L352.6,716.0 L350.6,719.0 L350.9,720.5 L339.8,720.5 L340.1,719.0 L338.1,716.0 L338.1,713.0 L340.1,710.0 L338.1,707.0 L338.1,704.0 L340.1,701.0 L338.1,698.0 L338.1,695.0 L339.3,692 L337.8,684 L335.1,673.5 L338.8,676 Z" fill="url(#anc337)"/>
<rect x="337.0" y="655.6" width="16.7" height="3.6" rx="1.5" fill="#ddd6e5"/>
<line x1="345.4" y1="664" x2="345.4" y2="719" stroke="#c6bdd1" stroke-width="1.2"/>
<linearGradient id="anc359" gradientUnits="userSpaceOnUse" x1="357.7" x2="378.4" y1="0" y2="0"><stop offset="0" stop-color="#c9c0d4"/><stop offset="0.3" stop-color="#e6e0ec"/><stop offset="0.5" stop-color="#d6cee0"/><stop offset="0.7" stop-color="#e8e3ee"/><stop offset="1" stop-color="#cbc2d6"/></linearGradient>
<path d="M360.9,659 L375.2,659 L374.9,676 L378.6,673.5 L375.9,684 L374.4,692 L375.6,695.0 L375.6,698.0 L373.6,701.0 L375.6,704.0 L375.6,707.0 L373.6,710.0 L375.6,713.0 L375.6,716.0 L373.6,719.0 L373.9,720.5 L362.2,720.5 L362.5,719.0 L360.5,716.0 L360.5,713.0 L362.5,710.0 L360.5,707.0 L360.5,704.0 L362.5,701.0 L360.5,698.0 L360.5,695.0 L361.7,692 L360.2,684 L357.5,673.5 L361.2,676 Z" fill="url(#anc359)"/>
<rect x="359.4" y="655.6" width="17.3" height="3.6" rx="1.5" fill="#ddd6e5"/>
<line x1="368.0" y1="664" x2="368.0" y2="719" stroke="#c6bdd1" stroke-width="1.2"/>
<linearGradient id="anc381" gradientUnits="userSpaceOnUse" x1="379.3" x2="400.8" y1="0" y2="0"><stop offset="0" stop-color="#c9c0d4"/><stop offset="0.3" stop-color="#e6e0ec"/><stop offset="0.5" stop-color="#d6cee0"/><stop offset="0.7" stop-color="#e8e3ee"/><stop offset="1" stop-color="#cbc2d6"/></linearGradient>
<path d="M382.5,659 L397.6,659 L397.3,676 L401.0,673.5 L398.3,684 L396.8,692 L398.0,695.0 L398.0,698.0 L396.0,701.0 L398.0,704.0 L398.0,707.0 L396.0,710.0 L398.0,713.0 L398.0,716.0 L396.0,719.0 L396.3,720.5 L383.8,720.5 L384.1,719.0 L382.1,716.0 L382.1,713.0 L384.1,710.0 L382.1,707.0 L382.1,704.0 L384.1,701.0 L382.1,698.0 L382.1,695.0 L383.3,692 L381.8,684 L379.1,673.5 L382.8,676 Z" fill="url(#anc381)"/>
<rect x="381.0" y="655.6" width="18.1" height="3.6" rx="1.5" fill="#ddd6e5"/>
<line x1="390.1" y1="664" x2="390.1" y2="719" stroke="#c6bdd1" stroke-width="1.2"/>
</svg></body></html>
